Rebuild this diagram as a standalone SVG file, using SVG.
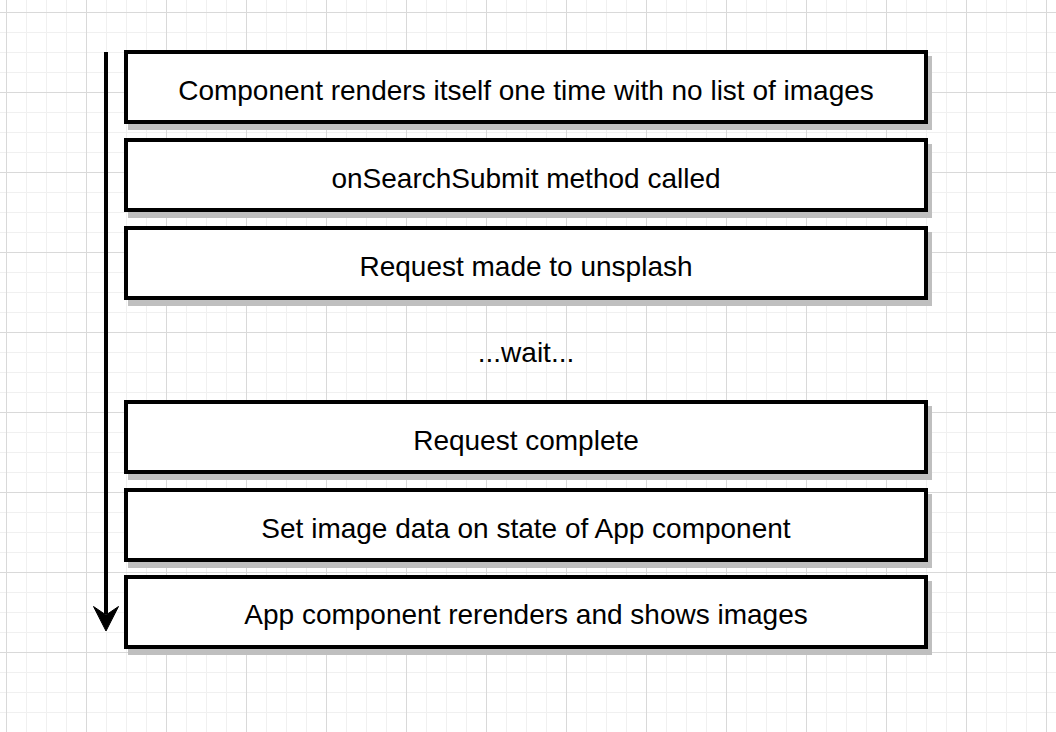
<svg xmlns="http://www.w3.org/2000/svg" width="1056" height="732" viewBox="0 0 1056 732">
<defs>
<pattern id="minor" x="6" y="12" width="20" height="20" patternUnits="userSpaceOnUse">
<path d="M0.5 0 V20 M0 0.5 H20" fill="none" stroke="#f0f0f0" stroke-width="1"/>
</pattern>
<pattern id="major" x="6" y="12" width="80" height="80" patternUnits="userSpaceOnUse">
<path d="M0.5 0 V80 M0 0.5 H80" fill="none" stroke="#d9d9d9" stroke-width="1"/>
</pattern>
<style>
.box{fill:#ffffff;stroke:#000000;stroke-width:4}
.shadow{fill:#bfbfbf;stroke:#bfbfbf;stroke-width:4}
.lbl{font-family:"Liberation Sans",Arial,Helvetica,sans-serif;font-size:28px;fill:#000000;text-anchor:middle}
</style>
</defs>
<rect width="1056" height="732" fill="#ffffff"/>
<rect width="1056" height="732" fill="url(#minor)"/>
<rect width="1056" height="732" fill="url(#major)"/>
<g id="connectors">
<line x1="106" y1="52" x2="106" y2="614" stroke="#000" stroke-width="4"/>
<polygon points="106,631 93.5,606.5 106,615 118.5,606.5" fill="#000" stroke="#000" stroke-width="1"/>
</g>
<g id="n1"><rect class="shadow" x="130" y="58" width="800" height="70"/><rect class="box" x="126" y="52" width="800" height="70"/><text class="lbl" x="526" y="100">Component renders itself one time with no list of images</text></g>
<g id="n2"><rect class="shadow" x="130" y="146" width="800" height="70"/><rect class="box" x="126" y="140" width="800" height="70"/><text class="lbl" x="526" y="188">onSearchSubmit method called</text></g>
<g id="n3"><rect class="shadow" x="130" y="234" width="800" height="70"/><rect class="box" x="126" y="228" width="800" height="70"/><text class="lbl" x="526" y="276">Request made to unsplash</text></g>
<g id="n4"><text class="lbl" x="526" y="362">...wait...</text></g>
<g id="n5"><rect class="shadow" x="130" y="408" width="800" height="70"/><rect class="box" x="126" y="402" width="800" height="70"/><text class="lbl" x="526" y="450">Request complete</text></g>
<g id="n6"><rect class="shadow" x="130" y="496" width="800" height="70"/><rect class="box" x="126" y="490" width="800" height="70"/><text class="lbl" x="526" y="538">Set image data on state of App component</text></g>
<g id="n7"><rect class="shadow" x="130" y="583" width="800" height="70"/><rect class="box" x="126" y="577" width="800" height="70"/><text class="lbl" x="526" y="624">App component rerenders and shows images</text></g>
</svg>
